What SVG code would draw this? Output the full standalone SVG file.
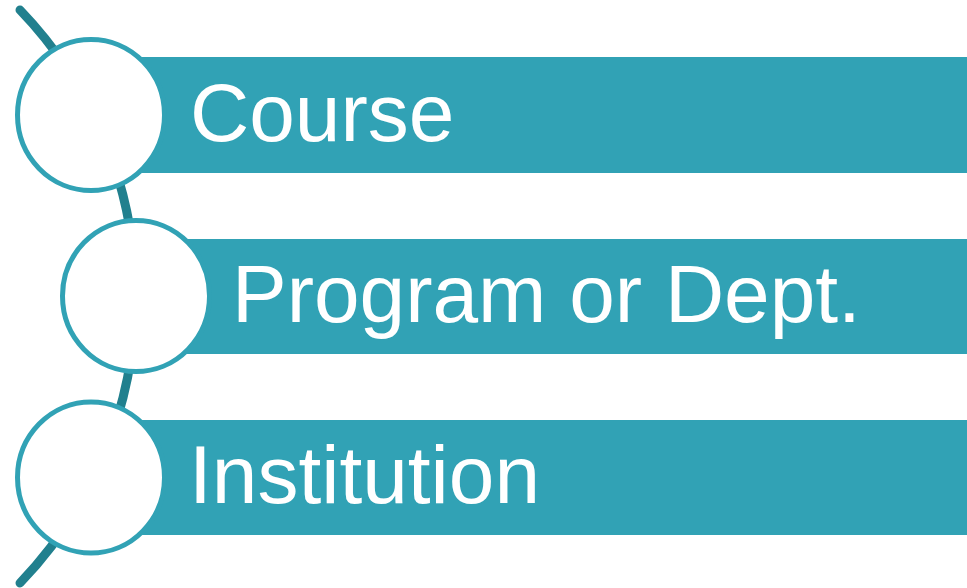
<svg xmlns="http://www.w3.org/2000/svg" width="967" height="588" viewBox="0 0 967 588">
  <style>
    .bar { fill: #31A2B5; }
    .ring { fill: #FFFFFF; stroke: #31A2B5; stroke-width: 5; }
    .label { fill: #FFFFFF; font-family: "Liberation Sans", Arial, sans-serif; font-size: 82px; }
    .spine { fill: none; stroke: #21808E; stroke-width: 9; stroke-linecap: round; }
  </style>
  <rect width="967" height="588" fill="#FFFFFF"/>

  <!-- curved spine linking the three levels -->
  <g id="connectors">
    <path class="spine" d="M 20 10 A 413 413 0 0 1 20 583"/>
  </g>

  <g id="course">
    <rect class="bar" x="130" y="57" width="837" height="116"/>
    <ellipse class="ring" cx="91" cy="115" rx="73.5" ry="75.5"/>
    <text class="label" x="190" y="141">Course</text>
  </g>

  <g id="program">
    <rect class="bar" x="175" y="239" width="792" height="115"/>
    <ellipse class="ring" cx="136" cy="296" rx="73.5" ry="75.5"/>
    <text class="label" x="232" y="322">Program or Dept.</text>
  </g>

  <g id="institution">
    <rect class="bar" x="130" y="420" width="837" height="115"/>
    <ellipse class="ring" cx="91" cy="477.5" rx="73.5" ry="75.5"/>
    <text class="label" x="189" y="503">Institution</text>
  </g>
</svg>
